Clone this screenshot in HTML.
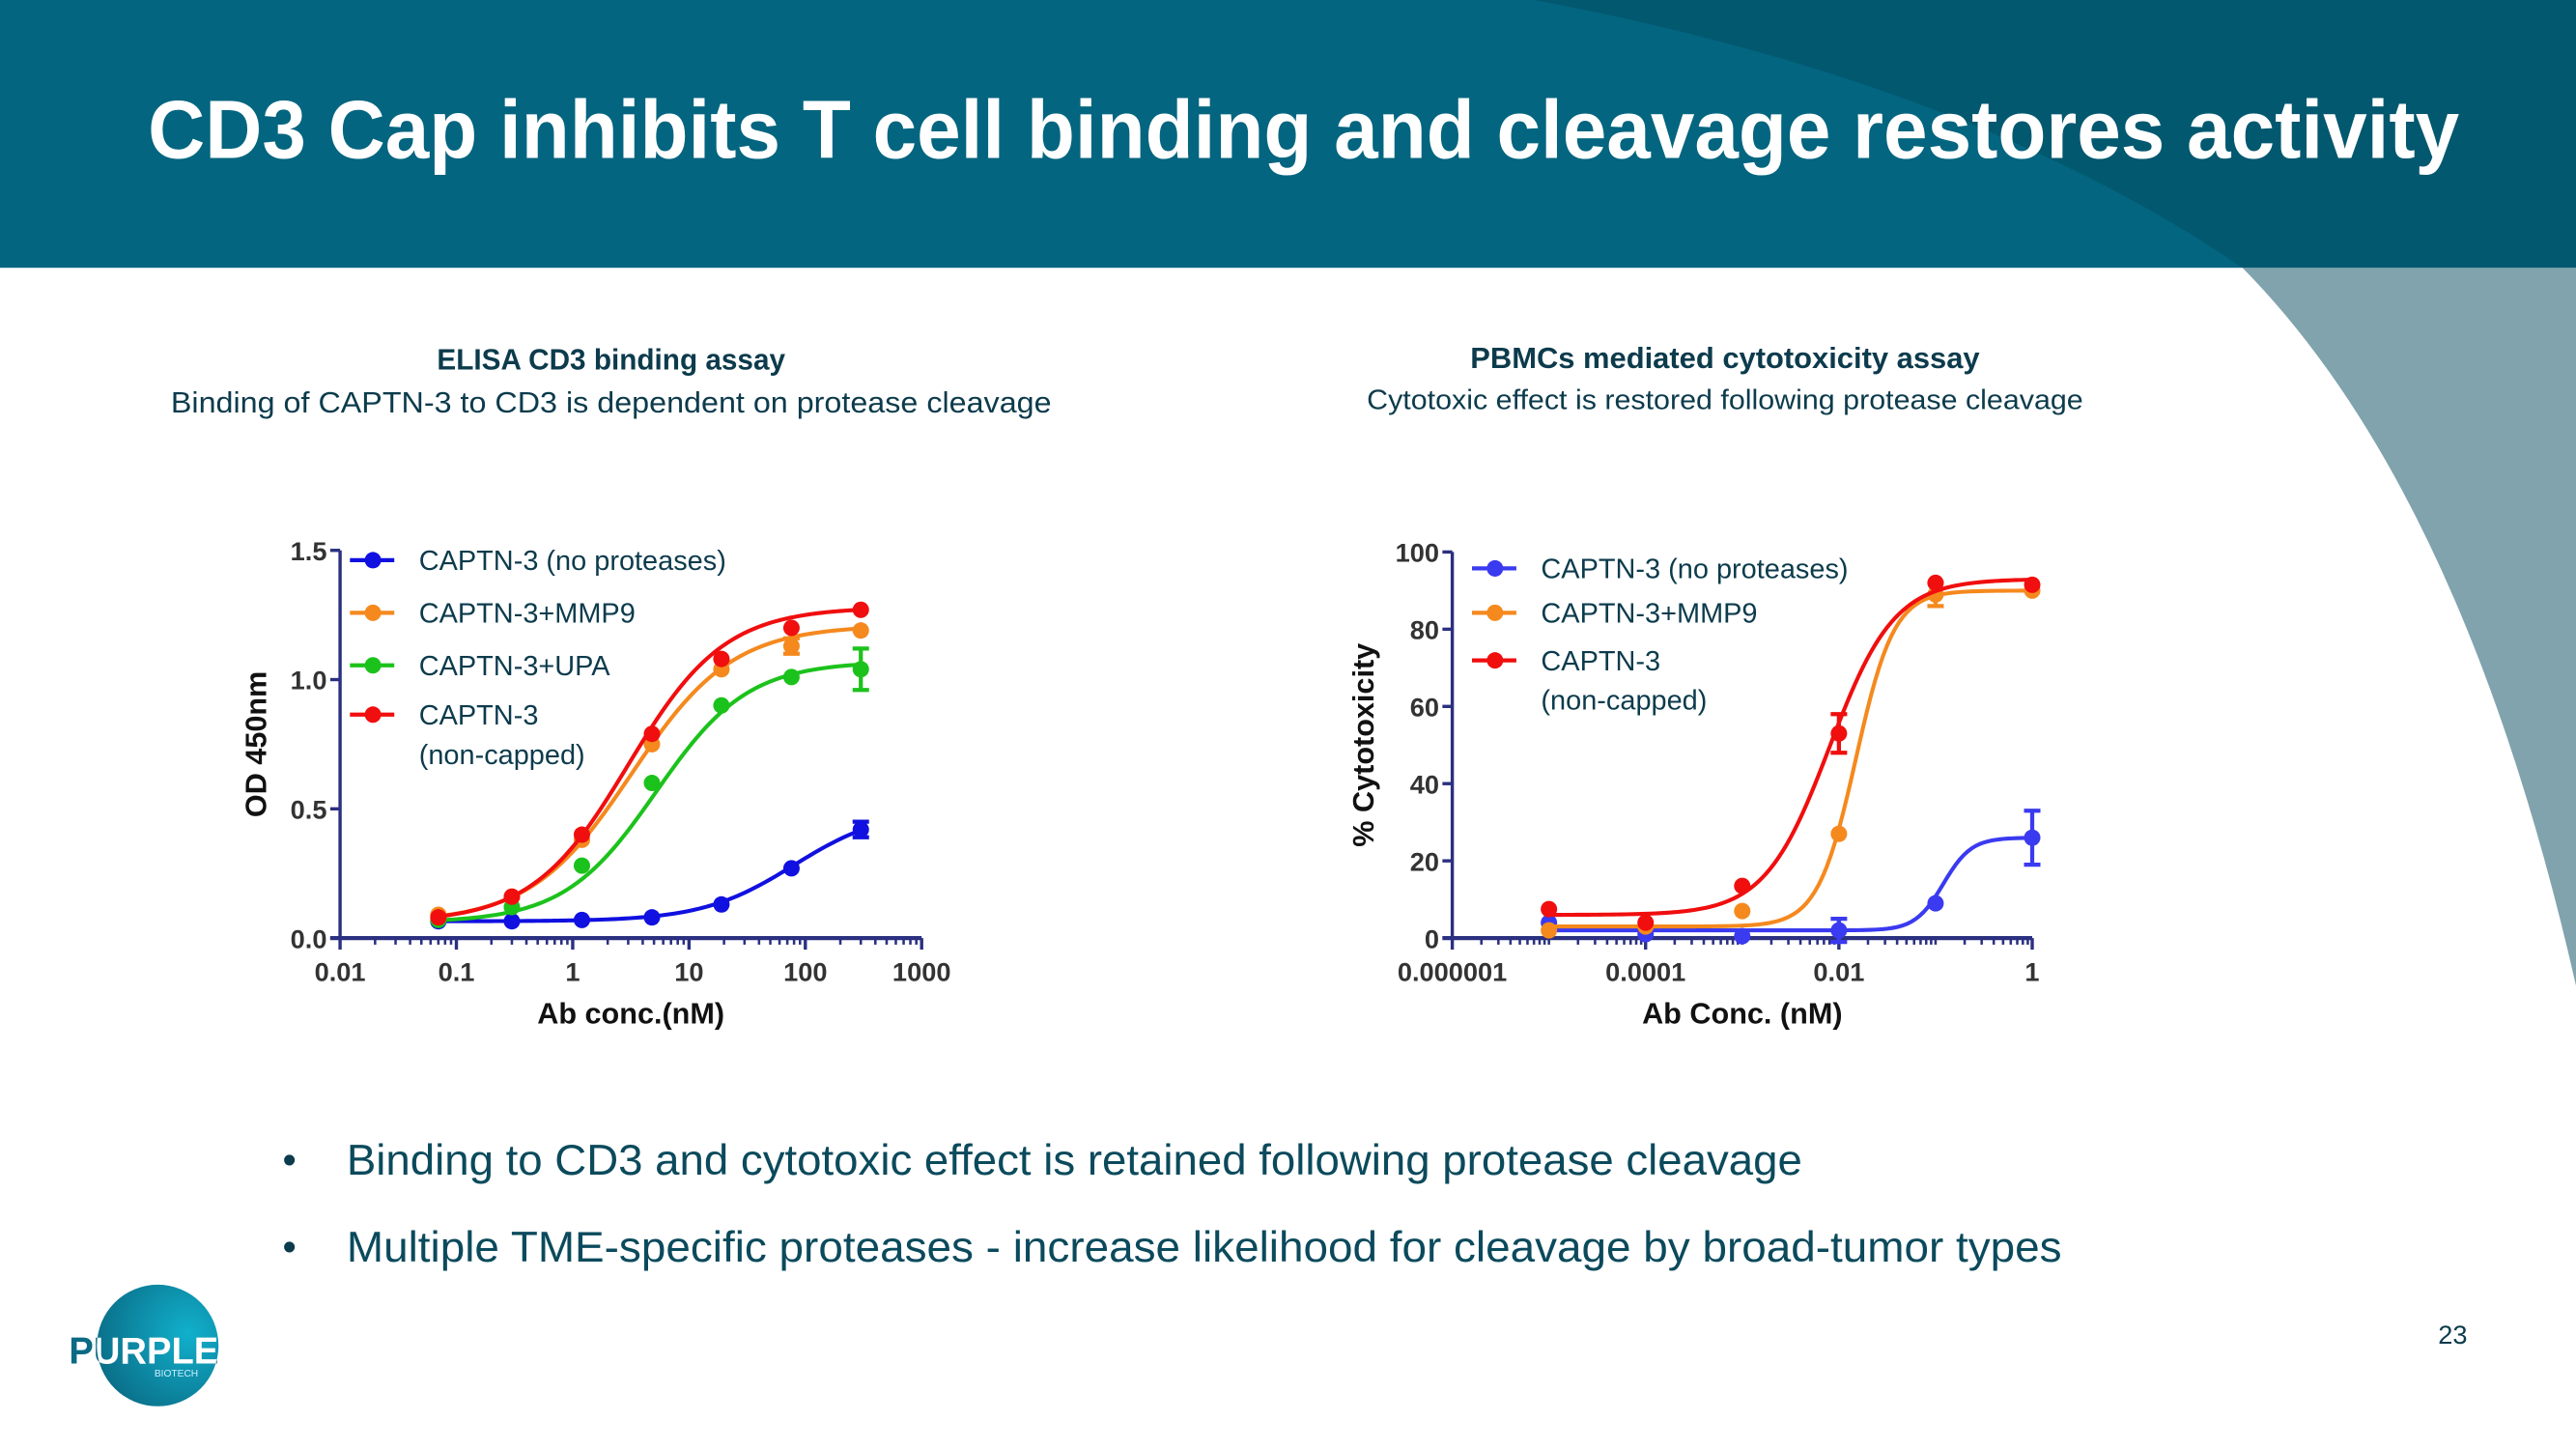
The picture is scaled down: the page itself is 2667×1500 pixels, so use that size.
<!DOCTYPE html>
<html><head><meta charset="utf-8"><style>
html,body{margin:0;padding:0;background:#fff;}
svg{display:block;}
text{font-family:"Liberation Sans",sans-serif;}
</style></head><body>
<svg id="root" width="2667" height="1500" viewBox="0 0 1568 882" preserveAspectRatio="none" xmlns="http://www.w3.org/2000/svg">
<defs>
<radialGradient id="lg" cx="0.75" cy="0.4" r="0.8"><stop offset="0" stop-color="#11b0cc"/><stop offset="1" stop-color="#0a6c86"/></radialGradient>
<clipPath id="logoclip"><circle cx="96" cy="819" r="37"/></clipPath>
</defs>
<rect x="0" y="0" width="1568" height="163" fill="#03657f"/>
<path d="M934,0 Q1200,50 1365,163 L1568,163 L1568,0 Z" fill="#02586f"/>
<path d="M1365,163 Q1500,300 1568,600 L1568,163 Z" fill="#80a3ad"/>
<text x="90" y="96" font-size="50" font-weight="bold" fill="#fff" textLength="1407" lengthAdjust="spacingAndGlyphs">CD3 Cap inhibits T cell binding and cleavage restores activity</text>

<text x="372" y="225" font-size="18" font-weight="bold" fill="#0c3b4c" text-anchor="middle" textLength="212" lengthAdjust="spacingAndGlyphs">ELISA CD3 binding assay</text>
<text x="372" y="251" font-size="18" fill="#0c3b4c" text-anchor="middle" textLength="536" lengthAdjust="spacingAndGlyphs">Binding of CAPTN-3 to CD3 is dependent on protease cleavage</text>
<text x="1050" y="224" font-size="18" font-weight="bold" fill="#0c3b4c" text-anchor="middle" textLength="310" lengthAdjust="spacingAndGlyphs">PBMCs mediated cytotoxicity assay</text>
<text x="1050" y="249" font-size="17" fill="#0c3b4c" text-anchor="middle" textLength="436" lengthAdjust="spacingAndGlyphs">Cytotoxic effect is restored following protease cleavage</text>

<g id="chartL"></g>
<g id="chartR"></g>

<text x="172" y="714" font-size="24" fill="#0c3b4c">•</text>
<text x="211" y="715" font-size="26" fill="#0b4a5c" textLength="886" lengthAdjust="spacingAndGlyphs">Binding to CD3 and cytotoxic effect is retained following protease cleavage</text>
<text x="172" y="767" font-size="24" fill="#0c3b4c">•</text>
<text x="211" y="768" font-size="26" fill="#0b4a5c" textLength="1044" lengthAdjust="spacingAndGlyphs">Multiple TME-specific proteases - increase likelihood for cleavage by broad-tumor types</text>
<text x="1493" y="818" font-size="16" fill="#0c3b4c" text-anchor="middle">23</text>
<g>
<circle cx="96" cy="819" r="37" fill="url(#lg)"/>
<text x="42" y="830" font-size="23" font-weight="bold" fill="#0b6a84" textLength="91" lengthAdjust="spacingAndGlyphs">PURPLE</text>
<text x="42" y="830" font-size="23" font-weight="bold" fill="#fff" textLength="91" lengthAdjust="spacingAndGlyphs" clip-path="url(#logoclip)">PURPLE</text>
<text x="94" y="838" font-size="6" fill="#cfefff">BIOTECH</text>
</g>
</svg>
<script>
// ---- Left chart data (ELISA) ----
const elisaConc = [0.07, 0.3, 1.2, 4.8, 19, 76, 300];
const elisaNoProt = [0.065, 0.065, 0.07, 0.08, 0.13, 0.27, 0.42];
const elisaMMP9 = [0.09, 0.16, 0.38, 0.75, 1.04, 1.13, 1.19];
const elisaUPA = [0.07, 0.12, 0.28, 0.60, 0.90, 1.01, 1.04];
const elisaNonCapped = [0.08, 0.16, 0.40, 0.79, 1.08, 1.20, 1.27];
const elisaYTicks = [0, 0.5, 1.0, 1.5];
const elisaYTickLabels = ["0.0", "0.5", "1.0", "1.5"];
const elisaXTicks = [0.01, 0.1, 1, 10, 100, 1000];
const elisaXTickLabels = ["0.01", "0.1", "1", "10", "100", "1000"];
// fit params [bottom, top, ec50, hill]
const elisaFitNoProt = [0.065, 0.5, 80, 1.1];
const elisaFitMMP9 = [0.06, 1.21, 3.2, 1.0];
const elisaFitUPA = [0.06, 1.07, 5.2, 1.1];
const elisaFitNonCapped = [0.06, 1.28, 3.0, 1.05];
// ---- Right chart data (cytotoxicity) ----
const cytoConc = [0.00001, 0.0001, 0.001, 0.01, 0.1, 1];
const cytoNoProt = [4, 1, 0.5, 2, 9, 26];
const cytoMMP9 = [2, 3, 7, 27, 89, 90];
const cytoNonCapped = [7.5, 4, 13.5, 53, 92, 91.5];
const cytoYTicks = [0, 20, 40, 60, 80, 100];
const cytoXTicks = [0.000001, 0.0001, 0.01, 1];
const cytoXTickLabels = ["0.000001", "0.0001", "0.01", "1"];
const cytoFitNoProt = [2, 26, 0.12, 3];
const cytoFitMMP9 = [3, 90, 0.015, 2.2];
const cytoFitNonCapped = [6, 93, 0.008, 1.3];

const NS = "http://www.w3.org/2000/svg";
function mk(parent, tag, attrs, txt) {
  const e = document.createElementNS(NS, tag);
  for (const k in attrs) e.setAttribute(k, attrs[k]);
  if (txt !== undefined) e.textContent = txt;
  parent.appendChild(e);
  return e;
}
function fit(p, x) { return p[0] + (p[1] - p[0]) / (1 + Math.pow(p[2] / x, p[3])); }

function drawChart(g, cfg) {
  const sx = v => cfg.x0 + (Math.log10(v) - cfg.lmin) / (cfg.lmax - cfg.lmin) * (cfg.x1 - cfg.x0);
  const sy = v => cfg.y0 - (v - cfg.vmin) / (cfg.vmax - cfg.vmin) * (cfg.y0 - cfg.y1);
  const axc = "#2b3080";
  const ya = mk(g, "line", {x1: cfg.x0, y1: cfg.y0, x2: cfg.x0, y2: cfg.y1, stroke: axc, "stroke-width": 2});
  
  
  const xa = mk(g, "line", {x1: cfg.x0 - 6, y1: cfg.y0, x2: cfg.x1, y2: cfg.y0, stroke: axc, "stroke-width": 2.5});
  
  
  cfg.yTicks.forEach((v, i) => {
    const y = sy(v);
    mk(g, "line", {x1: cfg.x0 - 6, y1: y, x2: cfg.x0, y2: y, stroke: axc, "stroke-width": 2});
    const t = mk(g, "text", {x: cfg.x0 - 8, y: y + 6, "font-size": 16, "font-weight": "bold", fill: "#333", "text-anchor": "end"}, cfg.yLabels[i]);
    
    
  });
  for (let d = cfg.lmin; d <= cfg.lmax; d += cfg.step) {
    const x = sx(Math.pow(10, d));
    mk(g, "line", {x1: x, y1: cfg.y0, x2: x, y2: cfg.y0 + 7, stroke: axc, "stroke-width": 2});
    if (d < cfg.lmax) {
      for (let m = 2; m <= 9; m++) {
        for (let s = 0; s < cfg.step; s++) {
          const xm = sx(m * Math.pow(10, d + s));
          mk(g, "line", {x1: xm, y1: cfg.y0, x2: xm, y2: cfg.y0 + 4, stroke: axc, "stroke-width": 1.5});
        }
      }
      for (let s = 1; s < cfg.step; s++) {
        const xm = sx(Math.pow(10, d + s));
        mk(g, "line", {x1: xm, y1: cfg.y0, x2: xm, y2: cfg.y0 + 4, stroke: axc, "stroke-width": 1.5});
      }
    }
  }
  cfg.xTicks.forEach((v, i) => {
    const t = mk(g, "text", {x: sx(v), y: cfg.y0 + 26, "font-size": 16, "font-weight": "bold", fill: "#333", "text-anchor": "middle"}, cfg.xLabels[i]);
    
    
  });
  const xt = mk(g, "text", {x: (cfg.x0 + cfg.x1) / 2, y: cfg.y0 + 52, "font-size": 18, "font-weight": "bold", fill: "#111", "text-anchor": "middle"}, cfg.xTitle);
  
  
  const yc = (cfg.y0 + cfg.y1) / 2 + cfg.yTitleOff;
  const yt = mk(g, "text", {x: cfg.yTitleX, y: yc, "font-size": 18, "font-weight": "bold", fill: "#111", "text-anchor": "middle", transform: `rotate(-90 ${cfg.yTitleX} ${yc})`}, cfg.yTitle);
  
  
  cfg.series.forEach(s => {
    const sg = mk(g, "g", {});
    
    
    let d = "";
    const lo = Math.log10(cfg.conc[0]), hi = Math.log10(cfg.conc[cfg.conc.length - 1]);
    for (let i = 0; i <= 120; i++) {
      const lx = lo + (hi - lo) * i / 120;
      const v = fit(s.fit, Math.pow(10, lx));
      d += (i ? "L" : "M") + sx(Math.pow(10, lx)).toFixed(2) + "," + sy(v).toFixed(2);
    }
    mk(sg, "path", {d: d, fill: "none", stroke: s.color, "stroke-width": 2.4});
    cfg.conc.forEach((c, i) => {
      const x = sx(c), y = sy(s.vals[i]);
      if (s.err && s.err[i]) {
        const e1 = sy(s.vals[i] + s.err[i]), e2 = sy(s.vals[i] - s.err[i]);
        mk(sg, "path", {d: `M${x},${e1}L${x},${e2}M${x - 5},${e1}L${x + 5},${e1}M${x - 5},${e2}L${x + 5},${e2}`, stroke: s.color, "stroke-width": 2.5, fill: "none"});
      }
      const p = mk(sg, "circle", {cx: x, cy: y, r: 5, fill: s.color});
      
      
    });
  });
  cfg.legend.forEach(l => {
    const lg = mk(g, "g", {});
    
    
    mk(lg, "line", {x1: cfg.legX - 14, y1: l.y, x2: cfg.legX + 13, y2: l.y, stroke: l.color, "stroke-width": 2.5});
    mk(lg, "circle", {cx: cfg.legX, cy: l.y, r: 5, fill: l.color});
    l.lines.forEach((tx, k) => mk(lg, "text", {x: cfg.legTX, y: l.y + 6 + k * 24, "font-size": 17, fill: "#0c3b4c"}, tx));
  });
}

const BLUE = "#1010e0", ORANGE = "#f5891e", GREEN = "#1cc21c", RED = "#f00e0e", BLUE2 = "#3a3af0";
drawChart(document.getElementById("chartL"), {
  x0: 207, x1: 561, y0: 571, y1: 335, lmin: -2, lmax: 3, step: 1, vmin: 0, vmax: 1.5,
  yTicks: elisaYTicks, yLabels: elisaYTickLabels, xTicks: elisaXTicks, xLabels: elisaXTickLabels,
  xTitle: "Ab conc.(nM)", yTitle: "OD 450nm", yTitleX: 162, yTitleOff: 0, conc: elisaConc,
  series: [
    {name: "series-no-proteases", color: BLUE, vals: elisaNoProt, fit: elisaFitNoProt, err: [0,0,0,0,0,0,0.03]},
    {name: "series-mmp9", color: ORANGE, vals: elisaMMP9, fit: elisaFitMMP9, err: [0,0,0,0,0,0.03,0]},
    {name: "series-upa", color: GREEN, vals: elisaUPA, fit: elisaFitUPA, err: [0,0,0,0,0,0,0.08]},
    {name: "series-non-capped", color: RED, vals: elisaNonCapped, fit: elisaFitNonCapped}
  ],
  legX: 227, legTX: 255,
  legend: [
    {y: 341, color: BLUE, lines: ["CAPTN-3 (no proteases)"]},
    {y: 373, color: ORANGE, lines: ["CAPTN-3+MMP9"]},
    {y: 405, color: GREEN, lines: ["CAPTN-3+UPA"]},
    {y: 435, color: RED, lines: ["CAPTN-3", "(non-capped)"]}
  ]
});
drawChart(document.getElementById("chartR"), {
  x0: 884, x1: 1237, y0: 571, y1: 336, lmin: -6, lmax: 0, step: 2, vmin: 0, vmax: 100,
  yTicks: cytoYTicks, yLabels: cytoYTicks.map(String), xTicks: cytoXTicks, xLabels: cytoXTickLabels,
  xTitle: "Ab Conc. (nM)", yTitle: "% Cytotoxicity", yTitleX: 836, yTitleOff: 0, conc: cytoConc,
  series: [
    {name: "series-no-proteases", color: BLUE2, vals: cytoNoProt, fit: cytoFitNoProt, err: [0,0,0,3,0,7]},
    {name: "series-mmp9", color: ORANGE, vals: cytoMMP9, fit: cytoFitMMP9, err: [0,0,0,0,3,0]},
    {name: "series-non-capped", color: RED, vals: cytoNonCapped, fit: cytoFitNonCapped, err: [0,0,0,5,0,0]}
  ],
  legX: 910, legTX: 938,
  legend: [
    {y: 346, color: BLUE2, lines: ["CAPTN-3 (no proteases)"]},
    {y: 373, color: ORANGE, lines: ["CAPTN-3+MMP9"]},
    {y: 402, color: RED, lines: ["CAPTN-3", "(non-capped)"]}
  ]
});
</script>
</body></html>
